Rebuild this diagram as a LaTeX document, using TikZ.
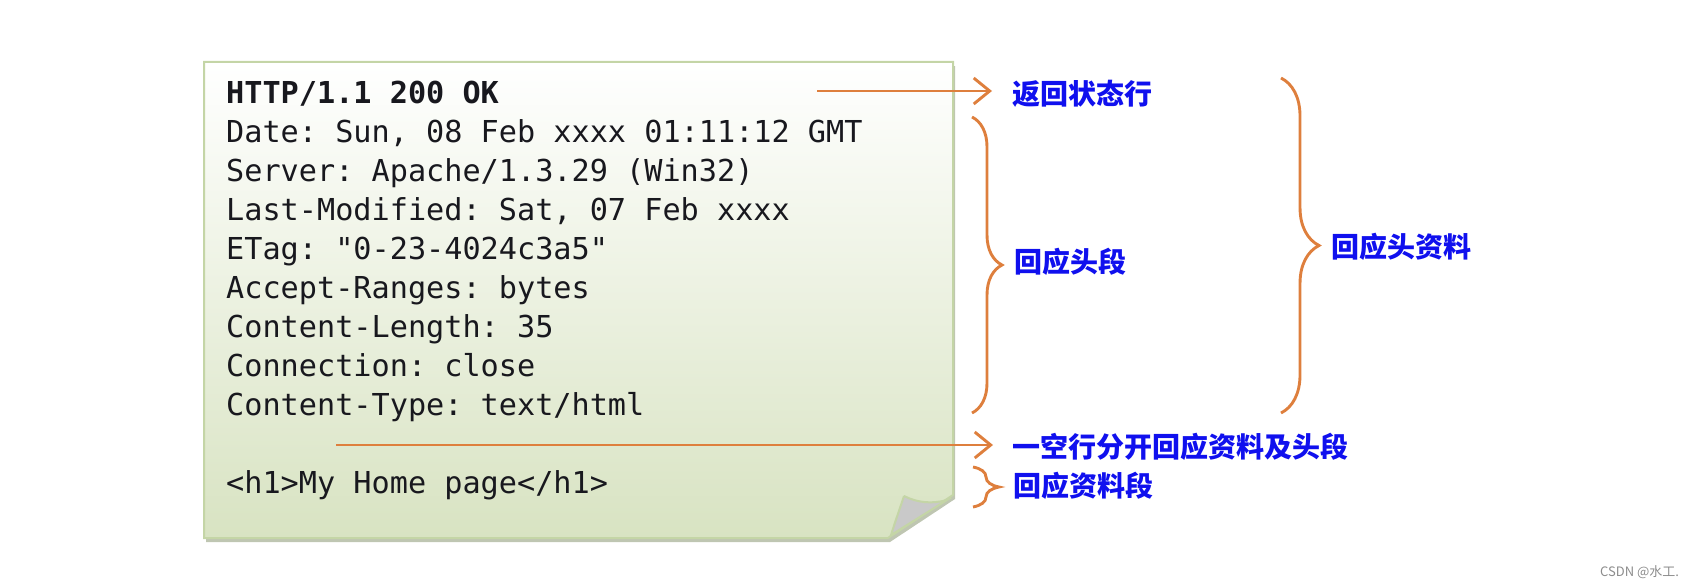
\documentclass[tikz,border=0pt]{standalone}
\usepackage{fontspec}
\setmonofont{DejaVu Sans Mono}
\newfontfamily\cjk{Noto Sans CJK SC}
\usetikzlibrary{arrows.meta,decorations.pathreplacing}
\definecolor{orangec}{HTML}{DE7F3D}
\definecolor{bluec}{HTML}{1010EE}
\definecolor{codec}{HTML}{18181E}
\definecolor{boxedge}{HTML}{C4D5A6}
\definecolor{boxbot}{HTML}{D8E3C2}
\definecolor{shadowc}{HTML}{BFC6B2}
\definecolor{curlgray}{HTML}{C9C9C9}
\definecolor{markc}{HTML}{8C8C8C}
\tikzset{
  code/.style={anchor=base west, inner sep=0pt, text=codec, font=\fontsize{30.2}{36}\selectfont\ttfamily},
  lbl/.style={anchor=west, inner sep=0pt, text=bluec, font=\fontsize{28}{32}\selectfont\cjk\bfseries},
  arr/.style={draw=orangec, line width=2.9pt, -{Straight Barb[length=16pt,width=26pt]}},
  brc/.style={draw=orangec, line width=2.9pt, decorate},
}
\begin{document}
\begin{tikzpicture}[x=1pt,y=-1pt]
\useasboundingbox (0,0) rectangle (1685,586);
% shadow and note box
\fill[shadowc, shift={(2,4)}] (204,62) -- (953,62) -- (953,495) -- (888,538) -- (204,538) -- cycle;
\shade[top color=white, bottom color=boxbot, draw=boxedge, line width=2pt]
  (204,62) -- (953,62) -- (953,495) -- (888,538) -- (204,538) -- cycle;
% page curl
\fill[curlgray, draw=boxedge, line width=2pt]
  (904,496) .. controls (918,503) and (932,504) .. (947,500) -- (891,535)
  .. controls (895,522) and (900,508) .. (904,496);
% code lines
\node[code] (l0) at (226,103) {\bfseries HTTP/1.1 200 OK};
\node[code] (l1) at (226,142) {Date: Sun, 08 Feb xxxx 01:11:12 GMT};
\node[code] (l2) at (226,181) {Server: Apache/1.3.29 (Win32)};
\node[code] (l3) at (226,220) {Last-Modified: Sat, 07 Feb xxxx};
\node[code] (l4) at (226,259) {ETag: "0-23-4024c3a5"};
\node[code] (l5) at (226,298) {Accept-Ranges: bytes};
\node[code] (l6) at (226,337) {Content-Length: 35};
\node[code] (l7) at (226,376) {Connection: close};
\node[code] (l8) at (226,415) {Content-Type: text/html};
\node[code] (l9) at (226,493) {<h1>My Home page</h1>};
% labels
\node[lbl] (L1) at (1012,94) {返回状态行};
\node[lbl] (L2) at (1014,262) {回应头段};
\node[lbl] (L3) at (1331,247) {回应头资料};
\node[lbl] (L4) at (1012,447) {一空行分开回应资料及头段};
\node[lbl] (L5) at (1013,486) {回应资料段};
% arrows
\coordinate (a1s) at (817,91);
\coordinate (a2s) at (336,445);
\draw[arr, shorten >=20pt] (a1s) -- (a1s -| L1.west);
\draw[arr, shorten >=19pt] (a2s) -- (a2s -| L4.west);
% braces
\coordinate (b1t) at (972,117);
\coordinate (b1b) at (972,413);
\coordinate (b2t) at (1281,78);
\coordinate (b2b) at (1281,413);
\coordinate (b3t) at (973,467);
\coordinate (b3b) at (973,507);
\draw[brc, decoration={brace, amplitude=30pt}] (b1t) -- (b1b);
\draw[brc, decoration={brace, amplitude=38pt}] (b2t) -- (b2b);
\draw[brc, decoration={brace, amplitude=26pt}] (b3t) -- (b3b);
% watermark
\node[anchor=west, inner sep=0pt, text=markc, font=\fontsize{13}{15}\selectfont\cjk] (wm) at (1600,572) {CSDN @水工.};
\end{tikzpicture}
\end{document}
